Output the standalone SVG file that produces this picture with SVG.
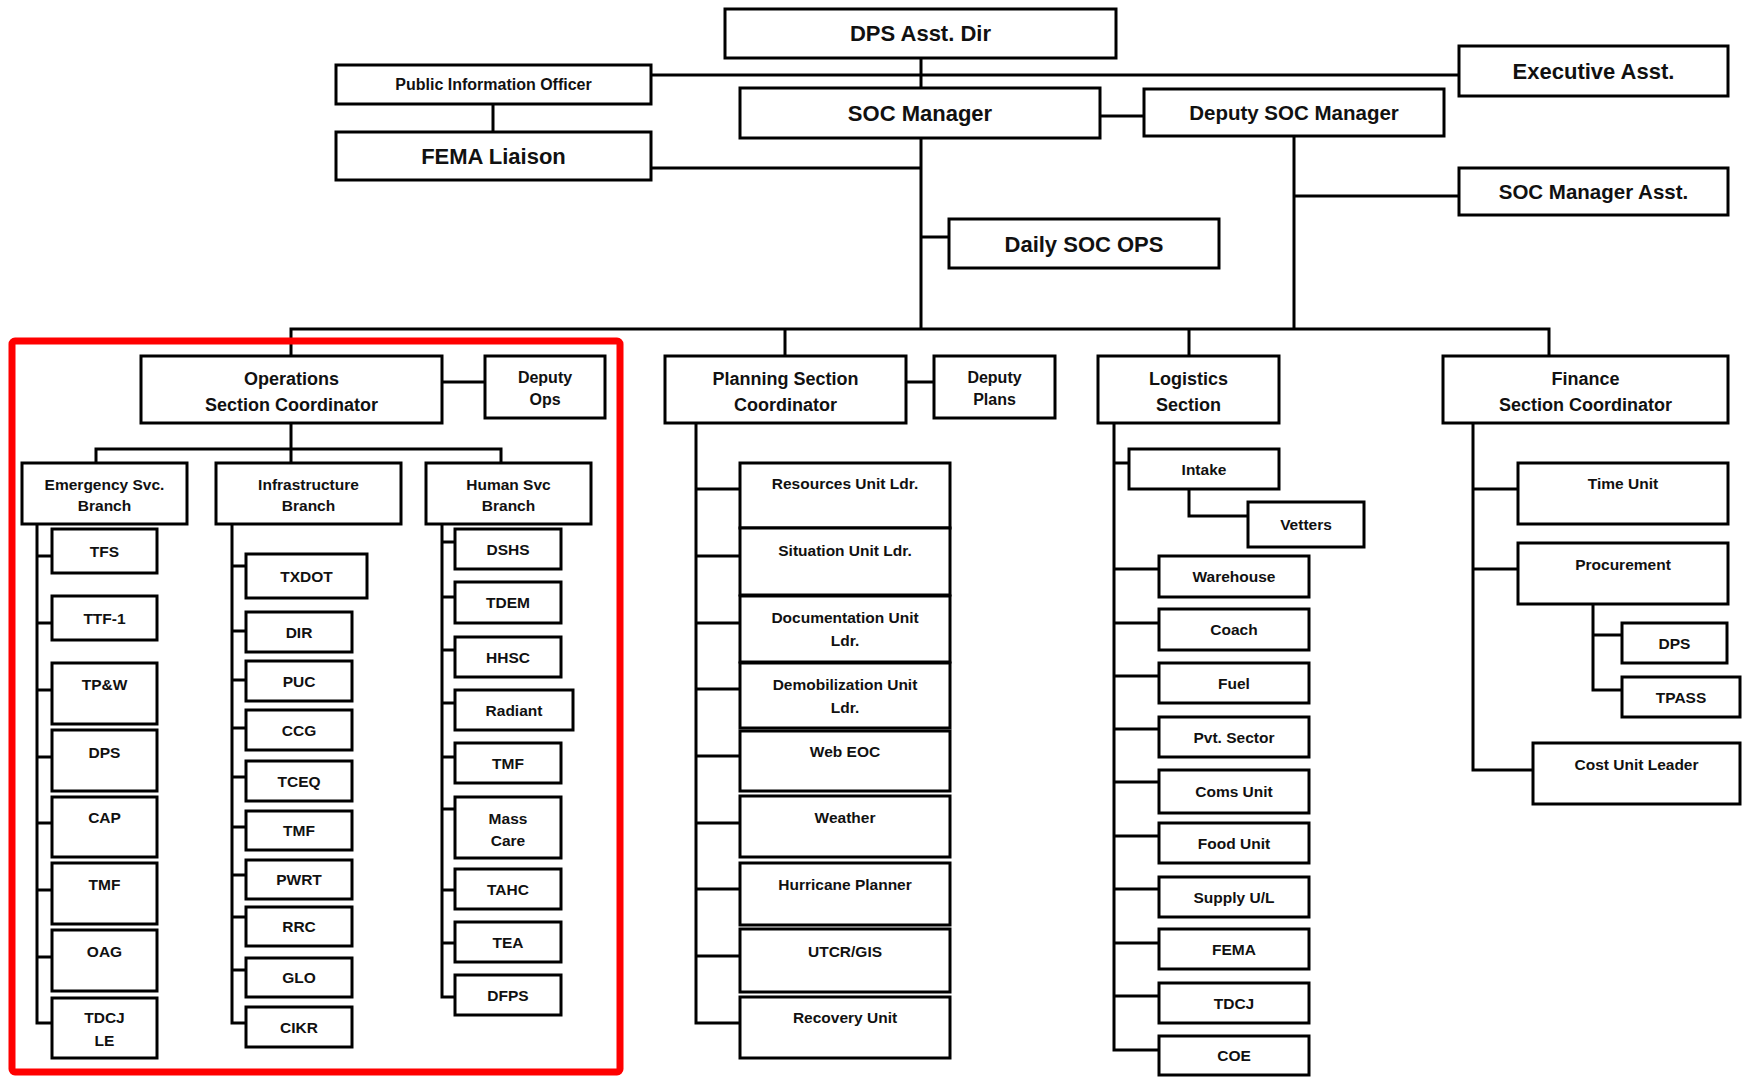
<svg xmlns="http://www.w3.org/2000/svg" width="1742" height="1078" viewBox="0 0 1742 1078">
<style>
.b{fill:#fff;stroke:#000;stroke-width:3}
.c{fill:none;stroke:#000;stroke-width:3;stroke-linecap:square}
text{font-family:"Liberation Sans",Arial,sans-serif;font-weight:bold;text-anchor:middle;fill:#111}
.s22{font-size:22px}.s20{font-size:20.5px}.s18{font-size:18px}.s16{font-size:16px}.s15{font-size:15.5px}
.hl{fill:none;stroke:#f00;stroke-width:7}
</style>
<rect width="1742" height="1078" fill="#fff"/>
<g id="connectors">
<path class="c" d="M651 75H1459M921 58V329M651 168H921M921 237H949M1100 116H1144M1294 136V329M1294 196H1459M291 329H1549M291 329V356M785 329V356M1189 329V356M1549 329V356"/>
<path class="c" d="M442 382H485M906 382H934M493 104V132"/>
<path class="c" d="M291 423V449M96 449H501M96 449V463M291 449V463M501 449V463"/>
<path class="c" d="M37 524V1023M37 556H52M37 623H52M37 690H52M37 757H52M37 823H52M37 890H52M37 957H52M37 1023H52"/>
<path class="c" d="M232 524V1023M232 566H246M232 631H246M232 680H246M232 728H246M232 777H246M232 827H246M232 875H246M232 917H246M232 970H246M232 1023H246"/>
<path class="c" d="M442 524V997M442 542H455M442 597H455M442 650H455M442 703H455M442 757H455M442 809H455M442 890H455M442 943H455M442 997H455"/>
<path class="c" d="M696 423V1023M696 489H740M696 556H740M696 623H740M696 689H740M696 756H740M696 823H740M696 889H740M696 956H740M696 1023H740"/>
<path class="c" d="M1114 423V1050M1114 463H1129M1189 489V516H1248M1114 569H1159M1114 623H1159M1114 676H1159M1114 729H1159M1114 782H1159M1114 836H1159M1114 889H1159M1114 943H1159M1114 996H1159M1114 1050H1159"/>
<path class="c" d="M1473 423V770M1473 489H1518M1473 569H1518M1593 604V690M1593 635H1622M1593 690H1622M1473 770H1533"/>
</g>
<g id="dps-asst-dir"><rect class="b" x="725" y="9" width="391" height="49"/><text class="s22" x="920.5" y="41">DPS Asst. Dir</text></g>
<g id="public-information-officer"><rect class="b" x="336" y="65" width="315" height="39"/><text class="s16" x="493.5" y="90">Public Information Officer</text></g>
<g id="fema-liaison"><rect class="b" x="336" y="132" width="315" height="48"/><text class="s22" x="493.5" y="164">FEMA Liaison</text></g>
<g id="soc-manager"><rect class="b" x="740" y="88" width="360" height="50"/><text class="s22" x="920" y="121">SOC Manager</text></g>
<g id="deputy-soc-manager"><rect class="b" x="1144" y="89" width="300" height="47"/><text class="s20" x="1294" y="120">Deputy SOC Manager</text></g>
<g id="executive-asst"><rect class="b" x="1459" y="46" width="269" height="50"/><text class="s22" x="1593.5" y="79">Executive Asst.</text></g>
<g id="soc-manager-asst"><rect class="b" x="1459" y="168" width="269" height="47"/><text class="s20" x="1593.5" y="199">SOC Manager Asst.</text></g>
<g id="daily-soc-ops"><rect class="b" x="949" y="219" width="270" height="49"/><text class="s22" x="1084" y="251.5">Daily SOC OPS</text></g>

<g id="highlight"><rect class="hl" x="12" y="341" width="608" height="731" rx="3"/></g>

<g id="operations"><rect class="b" x="141" y="356" width="301" height="67"/><text class="s18" x="291.5" y="384.5">Operations</text><text class="s18" x="291.5" y="410.5">Section Coordinator</text></g>
<g id="deputy-ops"><rect class="b" x="485" y="356" width="120" height="62"/><text class="s16" x="545" y="383">Deputy</text><text class="s16" x="545" y="405">Ops</text></g>
<g id="planning"><rect class="b" x="665" y="356" width="241" height="67"/><text class="s18" x="785.5" y="384.5">Planning Section</text><text class="s18" x="785.5" y="410.5">Coordinator</text></g>
<g id="deputy-plans"><rect class="b" x="934" y="356" width="121" height="62"/><text class="s16" x="994.5" y="383">Deputy</text><text class="s16" x="994.5" y="405">Plans</text></g>
<g id="logistics"><rect class="b" x="1098" y="356" width="181" height="67"/><text class="s18" x="1188.5" y="384.5">Logistics</text><text class="s18" x="1188.5" y="410.5">Section</text></g>
<g id="finance"><rect class="b" x="1443" y="356" width="285" height="67"/><text class="s18" x="1585.5" y="384.5">Finance</text><text class="s18" x="1585.5" y="410.5">Section Coordinator</text></g>

<g id="emergency-branch"><rect class="b" x="22" y="463" width="165" height="61"/><text class="s15" x="104.5" y="489.5">Emergency Svc.</text><text class="s15" x="104.5" y="510.5">Branch</text></g>
<g id="infrastructure-branch"><rect class="b" x="216" y="463" width="185" height="61"/><text class="s15" x="308.5" y="489.5">Infrastructure</text><text class="s15" x="308.5" y="510.5">Branch</text></g>
<g id="human-branch"><rect class="b" x="426" y="463" width="165" height="61"/><text class="s15" x="508.5" y="489.5">Human Svc</text><text class="s15" x="508.5" y="510.5">Branch</text></g>

<g id="es-tfs"><rect class="b" x="52" y="529" width="105" height="44"/><text class="s15" x="104.5" y="556.5">TFS</text></g>
<g id="es-ttf1"><rect class="b" x="52" y="596" width="105" height="44"/><text class="s15" x="104.5" y="623.5">TTF-1</text></g>
<g id="es-tpw"><rect class="b" x="52" y="663" width="105" height="61"/><text class="s15" x="104.5" y="689.5">TP&amp;W</text></g>
<g id="es-dps"><rect class="b" x="52" y="730" width="105" height="61"/><text class="s15" x="104.5" y="757.5">DPS</text></g>
<g id="es-cap"><rect class="b" x="52" y="797" width="105" height="60"/><text class="s15" x="104.5" y="822.5">CAP</text></g>
<g id="es-tmf"><rect class="b" x="52" y="863" width="105" height="61"/><text class="s15" x="104.5" y="889.5">TMF</text></g>
<g id="es-oag"><rect class="b" x="52" y="930" width="105" height="61"/><text class="s15" x="104.5" y="956.5">OAG</text></g>
<g id="es-tdcj"><rect class="b" x="52" y="998" width="105" height="60"/><text class="s15" x="104.5" y="1022.5">TDCJ</text><text class="s15" x="104.5" y="1045.5">LE</text></g>

<g id="in-txdot"><rect class="b" x="246" y="554" width="121" height="44"/><text class="s15" x="306.5" y="581.5">TXDOT</text></g>
<g id="in-dir"><rect class="b" x="246" y="612" width="106" height="40"/><text class="s15" x="299" y="637.5">DIR</text></g>
<g id="in-puc"><rect class="b" x="246" y="661" width="106" height="40"/><text class="s15" x="299" y="686.5">PUC</text></g>
<g id="in-ccg"><rect class="b" x="246" y="710" width="106" height="40"/><text class="s15" x="299" y="735.5">CCG</text></g>
<g id="in-tceq"><rect class="b" x="246" y="761" width="106" height="40"/><text class="s15" x="299" y="786.5">TCEQ</text></g>
<g id="in-tmf"><rect class="b" x="246" y="811" width="106" height="39"/><text class="s15" x="299" y="836">TMF</text></g>
<g id="in-pwrt"><rect class="b" x="246" y="860" width="106" height="39"/><text class="s15" x="299" y="885">PWRT</text></g>
<g id="in-rrc"><rect class="b" x="246" y="907" width="106" height="39"/><text class="s15" x="299" y="932">RRC</text></g>
<g id="in-glo"><rect class="b" x="246" y="958" width="106" height="39"/><text class="s15" x="299" y="983">GLO</text></g>
<g id="in-cikr"><rect class="b" x="246" y="1007" width="106" height="40"/><text class="s15" x="299" y="1032.5">CIKR</text></g>

<g id="hs-dshs"><rect class="b" x="455" y="529" width="106" height="40"/><text class="s15" x="508" y="554.5">DSHS</text></g>
<g id="hs-tdem"><rect class="b" x="455" y="582" width="106" height="41"/><text class="s15" x="508" y="608">TDEM</text></g>
<g id="hs-hhsc"><rect class="b" x="455" y="637" width="106" height="40"/><text class="s15" x="508" y="662.5">HHSC</text></g>
<g id="hs-radiant"><rect class="b" x="455" y="690" width="118" height="40"/><text class="s15" x="514" y="715.5">Radiant</text></g>
<g id="hs-tmf"><rect class="b" x="455" y="743" width="106" height="40"/><text class="s15" x="508" y="768.5">TMF</text></g>
<g id="hs-masscare"><rect class="b" x="455" y="797" width="106" height="61"/><text class="s15" x="508" y="823.5">Mass</text><text class="s15" x="508" y="845.5">Care</text></g>
<g id="hs-tahc"><rect class="b" x="455" y="869" width="106" height="40"/><text class="s15" x="508" y="894.5">TAHC</text></g>
<g id="hs-tea"><rect class="b" x="455" y="922" width="106" height="40"/><text class="s15" x="508" y="947.5">TEA</text></g>
<g id="hs-dfps"><rect class="b" x="455" y="975" width="106" height="40"/><text class="s15" x="508" y="1000.5">DFPS</text></g>

<g id="pl-resources"><rect class="b" x="740" y="463" width="210" height="65"/><text class="s15" x="845" y="488.5">Resources Unit Ldr.</text></g>
<g id="pl-situation"><rect class="b" x="740" y="528" width="210" height="67"/><text class="s15" x="845" y="555.5">Situation Unit Ldr.</text></g>
<g id="pl-documentation"><rect class="b" x="740" y="596" width="210" height="66"/><text class="s15" x="845" y="622.5">Documentation Unit</text><text class="s15" x="845" y="645.5">Ldr.</text></g>
<g id="pl-demobilization"><rect class="b" x="740" y="663" width="210" height="65"/><text class="s15" x="845" y="689.5">Demobilization Unit</text><text class="s15" x="845" y="712.5">Ldr.</text></g>
<g id="pl-webeoc"><rect class="b" x="740" y="731" width="210" height="60"/><text class="s15" x="845" y="756.5">Web EOC</text></g>
<g id="pl-weather"><rect class="b" x="740" y="796" width="210" height="61"/><text class="s15" x="845" y="822.5">Weather</text></g>
<g id="pl-hurricane"><rect class="b" x="740" y="863" width="210" height="62"/><text class="s15" x="845" y="889.5">Hurricane Planner</text></g>
<g id="pl-utcr"><rect class="b" x="740" y="929" width="210" height="63"/><text class="s15" x="845" y="956.5">UTCR/GIS</text></g>
<g id="pl-recovery"><rect class="b" x="740" y="997" width="210" height="61"/><text class="s15" x="845" y="1022.5">Recovery Unit</text></g>

<g id="lg-intake"><rect class="b" x="1129" y="449" width="150" height="40"/><text class="s15" x="1204" y="474.5">Intake</text></g>
<g id="lg-vetters"><rect class="b" x="1248" y="502" width="116" height="45"/><text class="s15" x="1306" y="529.5">Vetters</text></g>
<g id="lg-warehouse"><rect class="b" x="1159" y="556" width="150" height="41"/><text class="s15" x="1234" y="582">Warehouse</text></g>
<g id="lg-coach"><rect class="b" x="1159" y="609" width="150" height="41"/><text class="s15" x="1234" y="635">Coach</text></g>
<g id="lg-fuel"><rect class="b" x="1159" y="663" width="150" height="40"/><text class="s15" x="1234" y="688.5">Fuel</text></g>
<g id="lg-pvt"><rect class="b" x="1159" y="717" width="150" height="40"/><text class="s15" x="1234" y="742.5">Pvt. Sector</text></g>
<g id="lg-coms"><rect class="b" x="1159" y="770" width="150" height="43"/><text class="s15" x="1234" y="796.5">Coms Unit</text></g>
<g id="lg-food"><rect class="b" x="1159" y="823" width="150" height="40"/><text class="s15" x="1234" y="848.5">Food Unit</text></g>
<g id="lg-supply"><rect class="b" x="1159" y="877" width="150" height="40"/><text class="s15" x="1234" y="902.5">Supply U/L</text></g>
<g id="lg-fema"><rect class="b" x="1159" y="929" width="150" height="40"/><text class="s15" x="1234" y="954.5">FEMA</text></g>
<g id="lg-tdcj"><rect class="b" x="1159" y="983" width="150" height="40"/><text class="s15" x="1234" y="1008.5">TDCJ</text></g>
<g id="lg-coe"><rect class="b" x="1159" y="1036" width="150" height="39"/><text class="s15" x="1234" y="1061">COE</text></g>

<g id="fn-time"><rect class="b" x="1518" y="463" width="210" height="61"/><text class="s15" x="1623" y="488.5">Time Unit</text></g>
<g id="fn-procurement"><rect class="b" x="1518" y="543" width="210" height="61"/><text class="s15" x="1623" y="569.5">Procurement</text></g>
<g id="fn-dps"><rect class="b" x="1622" y="623" width="105" height="40"/><text class="s15" x="1674.5" y="648.5">DPS</text></g>
<g id="fn-tpass"><rect class="b" x="1622" y="677" width="118" height="40"/><text class="s15" x="1681" y="702.5">TPASS</text></g>
<g id="fn-cost"><rect class="b" x="1533" y="743" width="207" height="61"/><text class="s15" x="1636.5" y="769.5">Cost Unit Leader</text></g>
</svg>
